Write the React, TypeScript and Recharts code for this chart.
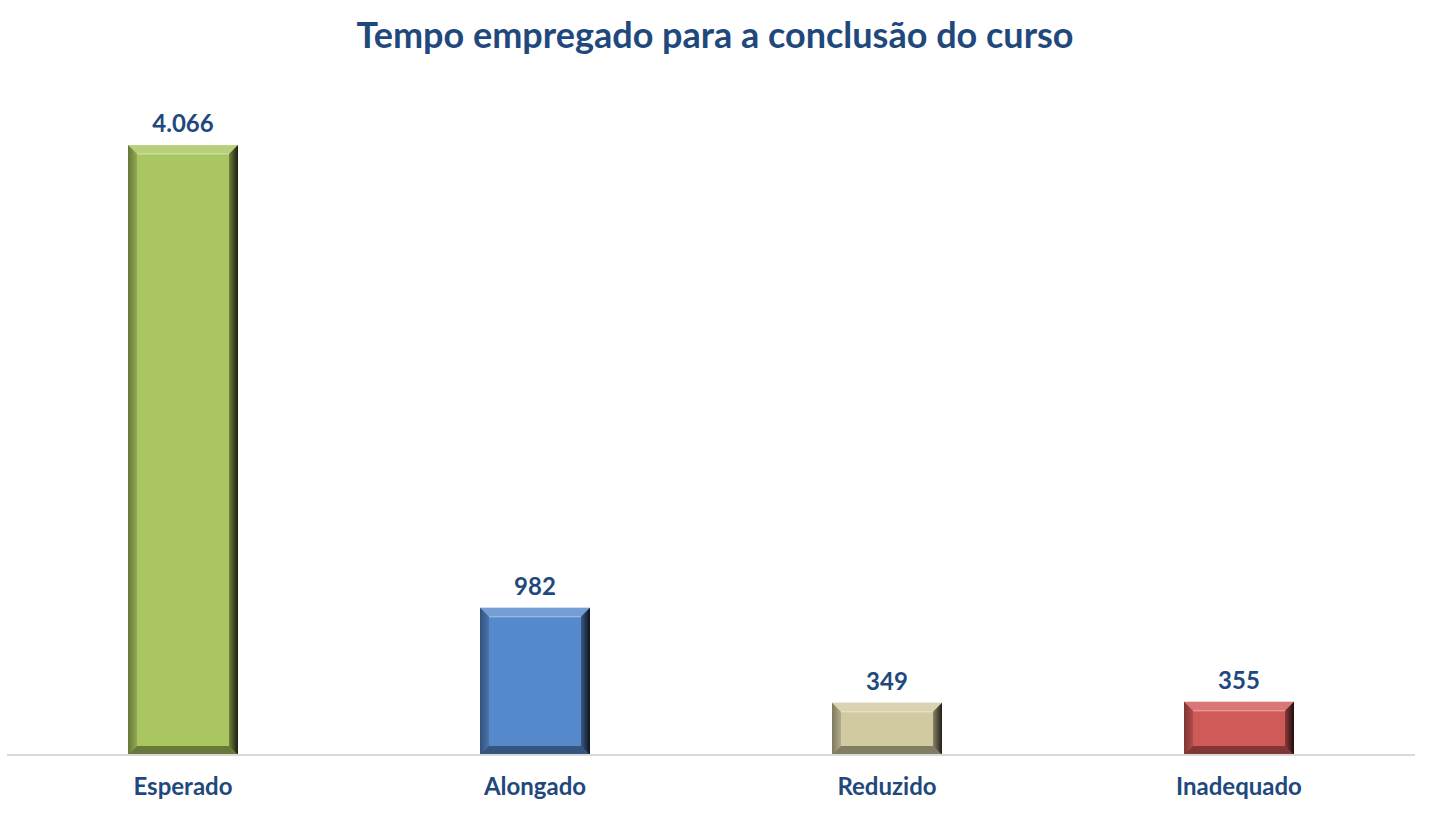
import React from "react";
import { BarChart, Bar, XAxis, YAxis, Cell, LabelList } from "recharts";

const categories = ["Esperado", "Alongado", "Reduzido", "Inadequado"];
const values = [4066, 982, 349, 355];
const colors = ["#A9C660", "#5689CB", "#D1CAA1", "#D05A57"];

const data = categories.map((name, i) => ({ name, value: values[i] }));

const TEXT = "#1F497D";
const FONT = "Lato, 'Noto Sans', sans-serif";

function BevelBar(props: any) {
  const { x, y, width: w, height: h, fill, index } = props;
  if (!w || !h) return null;
  const b = Math.min(9, h / 2, w / 2);
  const id = `rg${index}`;
  const lid = `lg${index}`;
  return (
    <g>
      <defs>
        <linearGradient id={id} x1="0" y1="0" x2="1" y2="0">
          <stop offset="0%" stopColor="#000" stopOpacity={0.35} />
          <stop offset="100%" stopColor="#000" stopOpacity={0.85} />
        </linearGradient>
        <linearGradient id={lid} x1="0" y1="0" x2="1" y2="0">
          <stop offset="0%" stopColor="#000" stopOpacity={0.4} />
          <stop offset="100%" stopColor="#000" stopOpacity={0.15} />
        </linearGradient>
      </defs>
      <rect x={x} y={y} width={w} height={h} fill={fill} />
      <polygon
        points={`${x},${y} ${x + w},${y} ${x + w - b},${y + b} ${x + b},${y + b}`}
        fill="#fff"
        fillOpacity={0.18}
      />
      <polygon
        points={`${x},${y} ${x + b},${y + b} ${x + b},${y + h - b} ${x},${y + h}`}
        fill={`url(#${lid})`}
      />
      <polygon
        points={`${x + w},${y} ${x + w},${y + h} ${x + w - b},${y + h - b} ${x + w - b},${y + b}`}
        fill={`url(#${id})`}
      />
      <polygon
        points={`${x},${y + h} ${x + w},${y + h} ${x + w - b},${y + h - b} ${x + b},${y + h - b}`}
        fill="#000"
        fillOpacity={0.38}
      />
      <line x1={x + b} y1={y + b} x2={x + w - b} y2={y + b} stroke="#fff" strokeOpacity={0.3} strokeWidth={1.5} />
    </g>
  );
}

export default function App() {
  return (
    <div style={{ position: "absolute", left: 0, top: 0, width: 1430, height: 830, background: "#fff" }}>
      <div
        style={{
          position: "absolute",
          top: 14,
          left: 0,
          width: 1430,
          textAlign: "center",
          fontFamily: FONT,
          fontWeight: 700,
          fontSize: 36,
          lineHeight: "40px",
          color: TEXT,
        }}
      >
        Tempo empregado para a conclusão do curso
      </div>
      <BarChart
        width={1430}
        height={830}
        data={data}
        margin={{ top: 80, right: 15, left: 7, bottom: 0 }}
        barSize={110}
      >
        <YAxis hide domain={[0, 4500]} />
        <XAxis
          dataKey="name"
          height={75}
          tickLine={false}
          tickSize={0}
          tickMargin={23}
          axisLine={{ stroke: "#D9D9D9", strokeWidth: 2 }}
          tick={{ fill: TEXT, fontSize: 24, fontWeight: 700, fontFamily: FONT }}
        />
        <Bar dataKey="value" shape={<BevelBar />} isAnimationActive={false}>
          {data.map((d, i) => (
            <Cell key={d.name} fill={colors[i]} />
          ))}
          <LabelList
            dataKey="value"
            position="top"
            offset={13}
            formatter={(v: any) => Number(v).toLocaleString("pt-BR")}
            style={{ fill: TEXT, fontSize: 24, fontWeight: 700, fontFamily: FONT }}
          />
        </Bar>
      </BarChart>
    </div>
  );
}
